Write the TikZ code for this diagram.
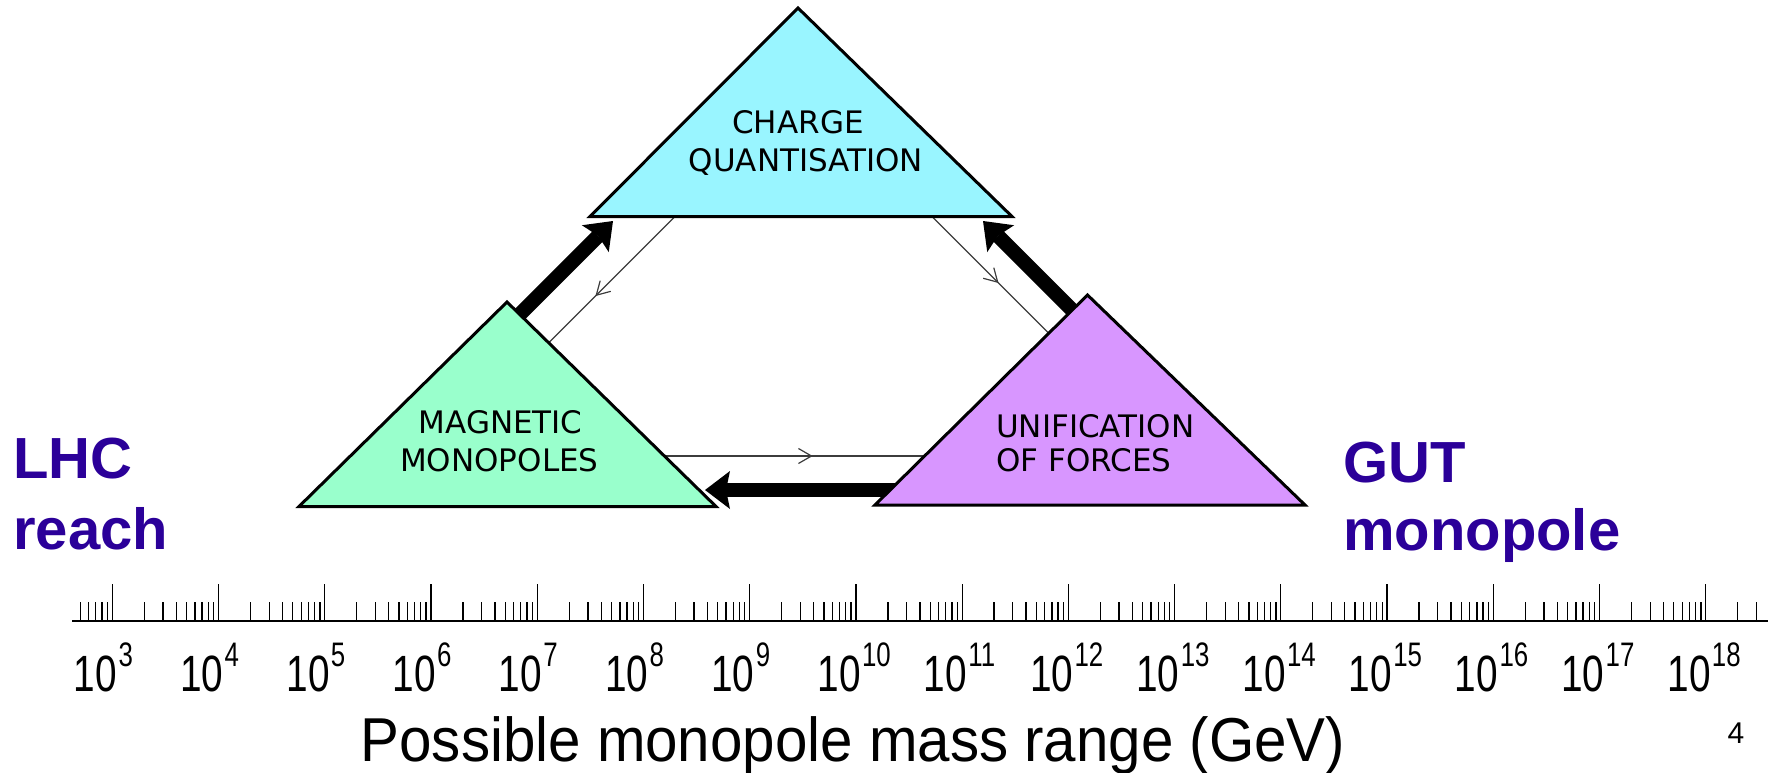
\documentclass[tikz,border=0pt]{standalone}
\usepackage{fontspec}
\usepackage{graphicx}
\setmainfont{Liberation Sans}
\newfontfamily\dejavu{DejaVu Sans}
\usetikzlibrary{arrows.meta,decorations.markings}
\definecolor{cyanfill}{RGB}{153,245,255}
\definecolor{greenfill}{RGB}{153,255,204}
\definecolor{purplefill}{RGB}{216,150,255}
\definecolor{labelblue}{RGB}{43,0,153}
\definecolor{thinline}{RGB}{60,60,60}
\begin{document}
\begin{tikzpicture}[x=1pt,y=-1pt,
  tri/.style={draw=black,line width=3pt,line join=miter},
  trilabel/.style={inner sep=0pt,font=\dejavu\fontsize{31}{37}\selectfont},
  bigarrow/.style={line width=14.5pt,-{Stealth[length=25pt,width=38pt,inset=4pt,line width=0pt]}},
  thinconn/.style={color=thinline,line width=1.2pt,postaction={decorate},
     decoration={markings,mark=at position #1 with {\arrow{Straight Barb[length=13pt,width=15pt]}}}},
  sidelabel/.style={inner sep=0pt,anchor=base west,text=labelblue,font=\bfseries\fontsize{58}{66}\selectfont},
  tickline/.style={line width=1.3pt},
  axnum/.style={inner sep=0pt,font=\fontsize{51}{56}\selectfont},
  axexp/.style={inner sep=0pt,font=\fontsize{34}{38}\selectfont}
]
\useasboundingbox (0,0) rectangle (1774,773);

% triangle corners
\coordinate (Ta) at (798,8);
\coordinate (Tl) at (590,216.5);
\coordinate (Tr) at (1012,216.5);
\coordinate (Ga) at (507,302);
\coordinate (Gl) at (299,506.5);
\coordinate (Gr) at (716,506.5);
\coordinate (Pa) at (1087.5,295);
\coordinate (Pl) at (875,505);
\coordinate (Pr) at (1305,505);

% connector end points
\coordinate (mmS) at (505,329);  \coordinate (cqL) at (613,221);
\coordinate (ufS) at (1090,328); \coordinate (cqR) at (983,221);
\coordinate (ufB) at (905,490);  \coordinate (mmB) at (705,490);
\coordinate (cqA) at (675,216.5);   \coordinate (mmA) at (548.7,342.8);
\coordinate (cqB) at (932,216.5);   \coordinate (ufA) at (1048.7,333.2);
\coordinate (mmC) at (664.4,456);   \coordinate (ufC) at (924.5,456);

% connectors
\draw[bigarrow] (mmS) -- (cqL);
\draw[bigarrow] (ufS) -- (cqR);
\draw[bigarrow] (ufB) -- (mmB);
\draw[thinconn=0.63] (cqA) -- (mmA);
\draw[thinconn=0.57] (cqB) -- (ufA);
\draw[thinconn=0.57] (mmC) -- (ufC);

% triangles
\filldraw[tri,fill=cyanfill] (Ta) -- (Tl) -- (Tr) -- cycle;
\filldraw[tri,fill=greenfill] (Ga) -- (Gl) -- (Gr) -- cycle;
\filldraw[tri,fill=purplefill] (Pa) -- (Pl) -- (Pr) -- cycle;

% triangle texts
\node[trilabel,anchor=base] (cq1) at (798,133.3) {CHARGE};
\node[trilabel,anchor=base] (cq2) at (806,171.7) {QUANTISATION};
\node[trilabel,anchor=base] (mm1) at (500.6,433) {MAGNETIC};
\node[trilabel,anchor=base] (mm2) at (499.4,471.7) {MONOPOLES};
\node[trilabel,anchor=base west] (uf1) at (996,437) {UNIFICATION};
\node[trilabel,anchor=base west] (uf2) at (996,471.7) {OF FORCES};

% side labels
\node[sidelabel] (lhc1) at (13,478) {LHC};
\node[sidelabel] (lhc2) at (13,549) {reach};
\node[sidelabel] (gut1) at (1343,482) {GUT};
\node[sidelabel] (gut2) at (1343,550) {monopole};

% axis
\draw[line width=2pt] (72,620.5) -- (1768,620.5);
\foreach \n in {3,...,18} {
  \pgfmathsetmacro{\xx}{112.3+106.23*(\n-3)}
  \draw[tickline] (\xx,621) -- (\xx,584);
  \node[axnum,anchor=base east] (b\n) at (\xx+5,691) {\scalebox{0.76}[1]{10}};
  \node[axexp,anchor=base west] (e\n) at (\xx+6,666) {\scalebox{0.76}[1]{\n}};
}
\foreach \k in {5,...,9} {
  \pgfmathsetmacro{\xx}{112.3+106.23*(log10(\k)-1)}
  \draw[tickline] (\xx,621) -- (\xx,602);
}
\foreach \n in {3,...,17} {
  \foreach \k in {2,...,9} {
    \pgfmathsetmacro{\xx}{112.3+106.23*(\n-3+log10(\k))}
    \draw[tickline] (\xx,621) -- (\xx,602);
  }
}
\foreach \k in {2,3} {
  \pgfmathsetmacro{\xx}{112.3+106.23*(15+log10(\k))}
  \draw[tickline] (\xx,621) -- (\xx,602);
}

\node[inner sep=0pt,anchor=base,font=\fontsize{62}{70}\selectfont] (title) at (853,761) {\scalebox{0.94}[1]{Possible monopole mass range (GeV)}};
\node[inner sep=0pt,anchor=base,font=\fontsize{30}{36}\selectfont] (page) at (1736,743) {4};
\end{tikzpicture}
\end{document}
